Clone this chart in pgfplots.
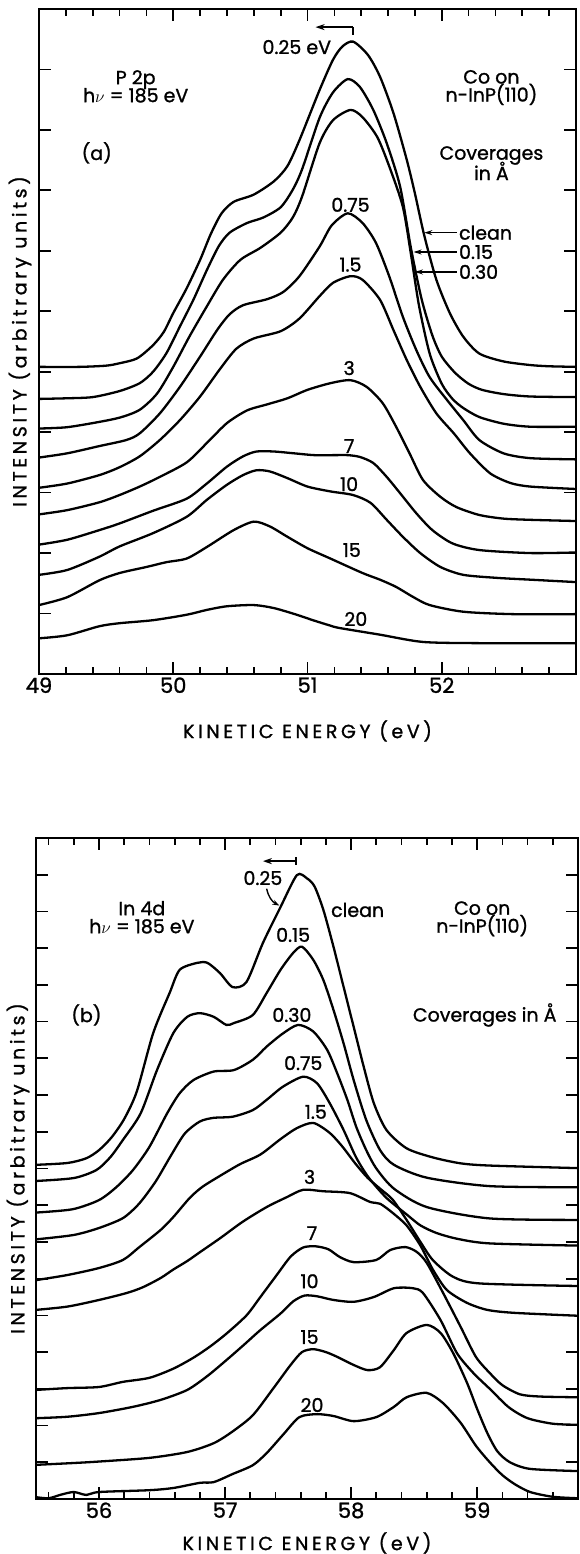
\documentclass[border=0pt]{standalone}
\usepackage{pgfplots}
\pgfplotsset{compat=1.18}
\usepackage{fontspec}
\setmainfont{Poppins}[FakeBold=1.2]
\usetikzlibrary{arrows.meta}
\newcommand\ann{\fontsize{19}{21}\selectfont\addfontfeatures{FakeBold=1.2}}
\newcommand\lab{\fontsize{19}{21}\selectfont\addfontfeatures{LetterSpace=19,FakeBold=1.2}}
\pgfplotsset{
  myaxis/.style={
    scale only axis, clip=false,
    axis line style={line width=2.2pt},
    every tick/.style={line width=1.7pt, black},
    major tick length=12pt, minor tick length=7pt,
    tick align=inside, xtick pos=both, ytick pos=both,
    yticklabels={},
    /pgf/number format/assume math mode=true,
    xticklabel style={font=\fontsize{21}{21}\selectfont\addfontfeatures{FakeBold=1.2}},
  },
  crv/.style={black, line width=2.3pt, smooth, tension=0.45, mark=none},
}
\begin{document}
\begin{tikzpicture}
\path[use as bounding box] (0pt,0pt) rectangle (579pt,1554pt);
% ---------------- panel (a)
\begin{axis}[myaxis, at={(39pt,880pt)}, anchor=south west, width=537pt, height=665pt,
  xmin=49, xmax=53, ymin=0, ymax=11,
  xtick={49,50,51,52},
  minor xtick={49.2,49.4,49.6,49.8,50.2,50.4,50.6,50.8,51.2,51.4,51.6,51.8,52.2,52.4,52.6,52.8},
  ytick={1,2,3,4,5,6,7,8,9,10}]
\addplot[crv] coordinates {(49.0,5.08)(49.3,5.08)(49.5,5.10)(49.6,5.14)(49.73,5.22)(49.85,5.44)(49.93,5.66)(50.0,5.97)(50.1,6.38)(50.2,6.85)(50.28,7.28)(50.36,7.62)(50.45,7.81)(50.6,7.93)(50.75,8.15)(50.85,8.40)(50.94,8.83)(51.09,9.66)(51.19,10.16)(51.26,10.38)(51.34,10.46)(51.45,10.24)(51.54,9.88)(51.64,9.28)(51.74,8.50)(51.80,7.95)(51.87,7.25)(51.96,6.52)(52.06,5.97)(52.16,5.58)(52.28,5.30)(52.46,5.17)(52.66,5.11)(52.8,5.09)(53.0,5.08)};
\addplot[crv] coordinates {(49.0,4.55)(49.2,4.56)(49.4,4.58)(49.6,4.68)(49.75,4.81)(49.85,5.00)(49.95,5.31)(50.05,5.75)(50.15,6.19)(50.25,6.68)(50.34,7.08)(50.42,7.30)(50.55,7.46)(50.67,7.55)(50.80,7.72)(50.89,8.01)(50.96,8.35)(51.09,9.20)(51.19,9.62)(51.30,9.84)(51.39,9.71)(51.49,9.33)(51.59,8.78)(51.69,8.06)(51.77,7.05)(51.85,6.2)(51.93,5.6)(52.0,5.25)(52.1,4.98)(52.2,4.8)(52.3,4.70)(52.46,4.63)(52.66,4.59)(53,4.58)};
\addplot[crv] coordinates {(49.0,4.06)(49.2,4.08)(49.4,4.15)(49.6,4.24)(49.75,4.37)(49.88,4.64)(50.0,5.08)(50.12,5.58)(50.25,6.08)(50.37,6.52)(50.50,6.85)(50.65,7.05)(50.80,7.30)(50.89,7.55)(50.96,7.90)(51.09,8.78)(51.19,9.16)(51.32,9.33)(51.41,9.21)(51.52,8.88)(51.61,8.39)(51.71,7.73)(51.77,6.95)(51.83,6.1)(51.91,5.3)(52.0,4.80)(52.08,4.55)(52.16,4.40)(52.28,4.25)(52.46,4.14)(52.66,4.09)(53,4.09)};
\addplot[crv] coordinates {(49.0,3.58)(49.21,3.65)(49.45,3.77)(49.65,3.87)(49.75,3.98)(49.90,4.31)(50.05,4.75)(50.20,5.25)(50.33,5.70)(50.42,5.95)(50.52,6.10)(50.70,6.20)(50.82,6.32)(50.94,6.58)(51.09,7.07)(51.18,7.42)(51.30,7.62)(51.41,7.46)(51.51,7.13)(51.61,6.57)(51.71,5.91)(51.81,5.36)(51.91,4.91)(52.04,4.53)(52.16,4.20)(52.28,3.87)(52.46,3.65)(52.66,3.57)(53,3.55)};
\addplot[crv] coordinates {(49.0,3.08)(49.21,3.15)(49.45,3.29)(49.6,3.42)(49.75,3.60)(49.90,3.87)(50.05,4.20)(50.20,4.59)(50.35,5.05)(50.47,5.38)(50.60,5.55)(50.80,5.67)(50.94,5.88)(51.09,6.25)(51.19,6.47)(51.32,6.58)(51.41,6.52)(51.54,6.19)(51.64,5.69)(51.74,5.19)(51.84,4.75)(51.96,4.31)(52.09,3.98)(52.21,3.65)(52.36,3.32)(52.51,3.16)(52.66,3.10)(53,3.06)};
\addplot[crv] coordinates {(49.0,2.64)(49.21,2.71)(49.45,2.84)(49.6,2.96)(49.75,3.10)(49.90,3.26)(50.10,3.50)(50.25,3.82)(50.40,4.15)(50.55,4.36)(50.70,4.46)(50.85,4.56)(51.0,4.70)(51.17,4.81)(51.32,4.86)(51.44,4.75)(51.56,4.48)(51.66,4.09)(51.76,3.65)(51.86,3.21)(51.99,2.93)(52.11,2.76)(52.28,2.63)(52.46,2.57)(52.66,2.55)(53,2.53)};
\addplot[crv] coordinates {(49.0,2.14)(49.21,2.22)(49.45,2.38)(49.6,2.49)(49.85,2.70)(50.10,2.90)(50.25,3.15)(50.40,3.43)(50.52,3.60)(50.62,3.68)(50.75,3.68)(50.90,3.65)(51.05,3.62)(51.20,3.62)(51.30,3.62)(51.39,3.59)(51.49,3.49)(51.59,3.26)(51.69,2.99)(51.81,2.66)(51.93,2.38)(52.08,2.16)(52.28,2.05)(52.66,2.00)(53,2.01)};
\addplot[crv] coordinates {(49.0,1.64)(49.21,1.72)(49.45,1.94)(49.6,2.11)(49.85,2.33)(50.10,2.60)(50.25,2.88)(50.40,3.13)(50.52,3.29)(50.62,3.37)(50.72,3.35)(50.85,3.24)(51.0,3.10)(51.17,3.02)(51.34,2.96)(51.47,2.83)(51.59,2.55)(51.71,2.27)(51.84,2.00)(51.99,1.77)(52.16,1.64)(52.41,1.59)(52.66,1.56)(53,1.52)};
\addplot[crv] coordinates {(49.0,1.14)(49.21,1.27)(49.45,1.55)(49.6,1.67)(49.80,1.77)(49.95,1.85)(50.10,1.91)(50.25,2.10)(50.45,2.38)(50.60,2.52)(50.72,2.44)(50.85,2.27)(51.0,2.08)(51.17,1.91)(51.41,1.67)(51.54,1.56)(51.66,1.44)(51.79,1.27)(51.91,1.14)(52.16,1.03)(52.53,0.99)(53,0.99)};
\addplot[crv] coordinates {(49.0,0.59)(49.21,0.64)(49.45,0.79)(49.6,0.84)(49.85,0.89)(50.10,0.98)(50.25,1.06)(50.40,1.12)(50.60,1.14)(50.75,1.09)(50.92,0.98)(51.04,0.89)(51.17,0.80)(51.24,0.76)(51.54,0.65)(51.86,0.53)(52.28,0.51)(53,0.51)};
% annotations (a)
\node[font=\ann] at (axis cs:50.92,10.37) {0.25 eV};
\draw[line width=1.7pt,-{Stealth[length=9pt,width=6pt]}] (axis cs:51.34,10.70) -- (axis cs:51.06,10.70);
\draw[line width=1.7pt] (axis cs:51.34,10.57) -- (axis cs:51.34,10.70);
\node[font=\ann,align=center] at (axis cs:49.72,9.72) {P 2p\\[-3pt]h$\nu$ = 185 eV};
\node[font=\ann] at (axis cs:49.43,8.62) {(a)};
\node[font=\ann,align=center] at (axis cs:52.37,9.70) {Co on\\[-3pt]n-InP(110)};
\node[font=\ann,align=center] at (axis cs:52.37,8.45) {Coverages\\[-4pt]in Å};
\draw[line width=1.5pt,-{Stealth[length=8pt,width=5pt]}] (axis cs:52.11,7.30) -- (axis cs:51.87,7.30);
\draw[line width=1.5pt,-{Stealth[length=8pt,width=5pt]}] (axis cs:52.11,6.98) -- (axis cs:51.79,6.98);
\draw[line width=1.5pt,-{Stealth[length=8pt,width=5pt]}] (axis cs:52.11,6.65) -- (axis cs:51.80,6.65);
\node[font=\ann,anchor=west,inner sep=1pt] at (axis cs:52.12,7.30) {clean};
\node[font=\ann,anchor=west,inner sep=1pt] at (axis cs:52.12,6.98) {0.15};
\node[font=\ann,anchor=west,inner sep=1pt] at (axis cs:52.12,6.65) {0.30};
\node[font=\ann] at (axis cs:51.32,7.76) {0.75};
\node[font=\ann] at (axis cs:51.32,6.77) {1.5};
\node[font=\ann] at (axis cs:51.31,5.06) {3};
\node[font=\ann] at (axis cs:51.31,3.77) {7};
\node[font=\ann] at (axis cs:51.31,3.14) {10};
\node[font=\ann] at (axis cs:51.33,2.05) {15};
\node[font=\ann] at (axis cs:51.36,0.91) {20};
\node[font=\lab] at (rel axis cs:0.5,0) [yshift=-57pt] {KINETIC ENERGY (eV)};
\node[font=\lab,xshift=-19pt,rotate=90] at (rel axis cs:0,0.5) {INTENSITY (arbitrary units)};
\end{axis}
% ---------------- panel (b)
\begin{axis}[myaxis, at={(36pt,55pt)}, anchor=south west, width=542pt, height=661pt,
  xmin=55.5, xmax=59.8, ymin=0, ymax=18,
  xtick={56,57,58,59},
  minor xtick={55.6,55.8,56.2,56.4,56.6,56.8,57.2,57.4,57.6,57.8,58.2,58.4,58.6,58.8,59.2,59.4,59.6},
  ytick={1,2,...,17}]
\addplot[crv] coordinates {(55.5,9.10)(55.75,9.15)(55.9,9.28)(56.0,9.50)(56.1,9.85)(56.2,10.35)(56.3,11.1)(56.43,12.69)(56.56,13.78)(56.64,14.41)(56.78,14.60)(56.86,14.60)(56.96,14.32)(57.06,13.94)(57.17,14.08)(57.30,15.14)(57.44,16.12)(57.57,16.99)(57.65,16.90)(57.71,16.68)(57.78,16.04)(57.86,15.04)(57.94,13.95)(58.02,12.86)(58.10,11.77)(58.18,10.78)(58.28,10.05)(58.44,9.55)(58.65,9.30)(58.87,9.14)(59.1,9.08)(59.8,9.01)};
\addplot[crv] coordinates {(55.5,8.66)(55.8,8.74)(55.98,8.96)(56.09,9.31)(56.19,9.78)(56.33,10.50)(56.46,11.68)(56.59,12.69)(56.70,13.13)(56.80,13.23)(56.91,13.13)(57.01,12.91)(57.07,12.96)(57.22,13.18)(57.33,13.78)(57.44,14.41)(57.54,14.87)(57.61,15.04)(57.70,14.68)(57.78,14.13)(57.86,13.32)(57.94,12.41)(58.02,11.41)(58.12,10.32)(58.23,9.50)(58.34,9.10)(58.60,8.75)(59.10,8.52)(59.8,8.49)};
\addplot[crv] coordinates {(55.5,7.80)(55.79,7.89)(56.0,8.14)(56.14,8.50)(56.27,8.96)(56.40,9.59)(56.54,10.50)(56.64,11.05)(56.75,11.41)(56.91,11.64)(57.07,11.68)(57.22,11.96)(57.33,12.32)(57.46,12.68)(57.58,12.91)(57.70,12.73)(57.81,12.23)(57.89,11.59)(57.97,10.87)(58.04,10.14)(58.12,9.50)(58.20,9.0)(58.34,8.45)(58.6,7.95)(59.1,7.64)(59.8,7.60)};
\addplot[crv] coordinates {(55.5,7.07)(55.80,7.19)(56.0,7.38)(56.19,7.65)(56.32,8.05)(56.45,8.65)(56.57,9.35)(56.68,9.95)(56.80,10.28)(56.91,10.38)(57.06,10.41)(57.22,10.59)(57.33,10.87)(57.46,11.23)(57.62,11.50)(57.73,11.32)(57.83,10.78)(57.94,10.05)(58.04,9.3)(58.14,8.75)(58.28,8.2)(58.44,7.75)(58.55,7.45)(58.68,7.24)(58.85,7.08)(59.1,6.96)(59.8,6.90)};
\addplot[crv] coordinates {(55.5,5.96)(55.75,6.10)(56.0,6.29)(56.19,6.51)(56.32,6.86)(56.49,7.33)(56.59,7.68)(56.72,8.20)(56.82,8.50)(56.96,8.80)(57.12,9.12)(57.28,9.38)(57.44,9.80)(57.57,10.10)(57.70,10.24)(57.83,9.97)(57.93,9.6)(58.03,9.15)(58.13,8.75)(58.23,8.45)(58.33,8.15)(58.44,7.6)(58.55,7.0)(58.65,6.5)(58.81,6.05)(59.02,5.87)(59.8,5.80)};
\addplot[crv] coordinates {(55.5,5.15)(55.75,5.24)(56.0,5.42)(56.22,5.61)(56.35,5.77)(56.49,6.02)(56.59,6.25)(56.70,6.48)(56.80,6.72)(56.96,7.1)(57.14,7.55)(57.33,7.95)(57.49,8.22)(57.62,8.42)(57.78,8.38)(57.99,8.33)(58.15,8.09)(58.23,8.04)(58.33,7.79)(58.44,7.45)(58.55,6.9)(58.65,6.24)(58.76,5.69)(58.92,5.34)(59.08,5.15)(59.29,5.07)(59.8,4.99)};
\addplot[crv] coordinates {(55.5,2.97)(55.75,3.02)(56.0,3.05)(56.19,3.19)(56.40,3.30)(56.59,3.55)(56.75,3.85)(56.88,4.15)(57.01,4.5)(57.17,5.0)(57.28,5.5)(57.41,6.1)(57.52,6.6)(57.62,6.85)(57.72,6.88)(57.82,6.80)(57.91,6.59)(58.02,6.45)(58.20,6.51)(58.31,6.78)(58.43,6.86)(58.52,6.73)(58.60,6.43)(58.73,5.61)(58.87,4.68)(58.99,3.87)(59.10,3.43)(59.2,3.1)(59.34,2.85)(59.5,2.79)(59.8,2.77)};
\addplot[crv] coordinates {(55.5,2.20)(55.75,2.24)(56.0,2.34)(56.27,2.51)(56.49,2.70)(56.70,2.97)(56.86,3.35)(57.01,3.78)(57.15,4.2)(57.28,4.6)(57.44,5.05)(57.54,5.38)(57.63,5.54)(57.73,5.52)(57.86,5.42)(58.02,5.37)(58.18,5.50)(58.34,5.74)(58.49,5.74)(58.57,5.61)(58.71,4.87)(58.84,3.97)(58.97,3.43)(59.10,3.0)(59.25,2.5)(59.4,2.2)(59.6,2.05)(59.8,2.02)};
\addplot[crv] coordinates {(55.5,0.93)(55.8,0.98)(56.0,1.02)(56.40,1.12)(56.70,1.28)(56.91,1.52)(57.06,1.84)(57.22,2.28)(57.38,3.0)(57.52,3.65)(57.61,4.0)(57.70,4.08)(57.80,4.0)(57.89,3.87)(58.02,3.65)(58.13,3.51)(58.23,3.59)(58.34,4.06)(58.44,4.52)(58.60,4.74)(58.71,4.52)(58.81,3.97)(58.92,3.16)(59.0,2.45)(59.08,1.8)(59.16,1.3)(59.26,1.0)(59.42,0.82)(59.8,0.76)};
\addplot[crv] coordinates {(55.5,0.05)(55.6,0.02)(55.7,0.12)(55.8,0.19)(55.9,0.11)(56.0,0.19)(56.4,0.24)(56.59,0.30)(56.80,0.44)(56.91,0.46)(57.06,0.68)(57.22,0.92)(57.33,1.25)(57.46,1.75)(57.59,2.23)(57.73,2.31)(57.86,2.26)(58.02,2.12)(58.20,2.23)(58.34,2.51)(58.44,2.77)(58.60,2.89)(58.73,2.61)(58.87,2.07)(58.99,1.45)(59.1,1.0)(59.2,0.65)(59.3,0.40)(59.42,0.19)(59.6,0.06)(59.8,0.02)};
% annotations (b)
\draw[line width=1.7pt,-{Stealth[length=9pt,width=6pt]}] (axis cs:57.56,17.37) -- (axis cs:57.30,17.37);
\draw[line width=1.7pt] (axis cs:57.56,17.27) -- (axis cs:57.56,17.48);
\node[font=\ann] at (axis cs:57.30,16.91) {0.25};
\draw[line width=1.4pt,-{Stealth[length=7pt,width=5pt]}] (axis cs:57.33,16.62) to[bend right=25] (axis cs:57.43,16.16);
\node[font=\ann,anchor=west,inner sep=0pt] at (axis cs:57.84,16.04) {clean};
\node[font=\ann] at (axis cs:57.54,15.36) {0.15};
\node[font=\ann] at (axis cs:57.53,13.18) {0.30};
\node[font=\ann] at (axis cs:57.62,11.87) {0.75};
\node[font=\ann] at (axis cs:57.72,10.54) {1.5};
\node[font=\ann] at (axis cs:57.67,8.77) {3};
\node[font=\ann] at (axis cs:57.69,7.24) {7};
\node[font=\ann] at (axis cs:57.67,5.93) {10};
\node[font=\ann] at (axis cs:57.67,4.41) {15};
\node[font=\ann] at (axis cs:57.69,2.56) {20};
\node[font=\ann,align=center] at (axis cs:56.34,15.84) {In 4d\\[-3pt]h$\nu$ = 185 eV};
\node[font=\ann] at (axis cs:55.90,13.18) {(b)};
\node[font=\ann,align=center] at (axis cs:59.04,15.80) {Co on\\[-3pt]n-InP(110)};
\node[font=\ann] at (axis cs:59.06,13.18) {Coverages in Å};
\node[font=\lab] at (rel axis cs:0.5,0) [yshift=-44pt] {KINETIC ENERGY (eV)};
\node[font=\lab,xshift=-18pt,rotate=90] at (rel axis cs:0,0.5) {INTENSITY (arbitrary units)};
\end{axis}
\end{tikzpicture}
\end{document}
